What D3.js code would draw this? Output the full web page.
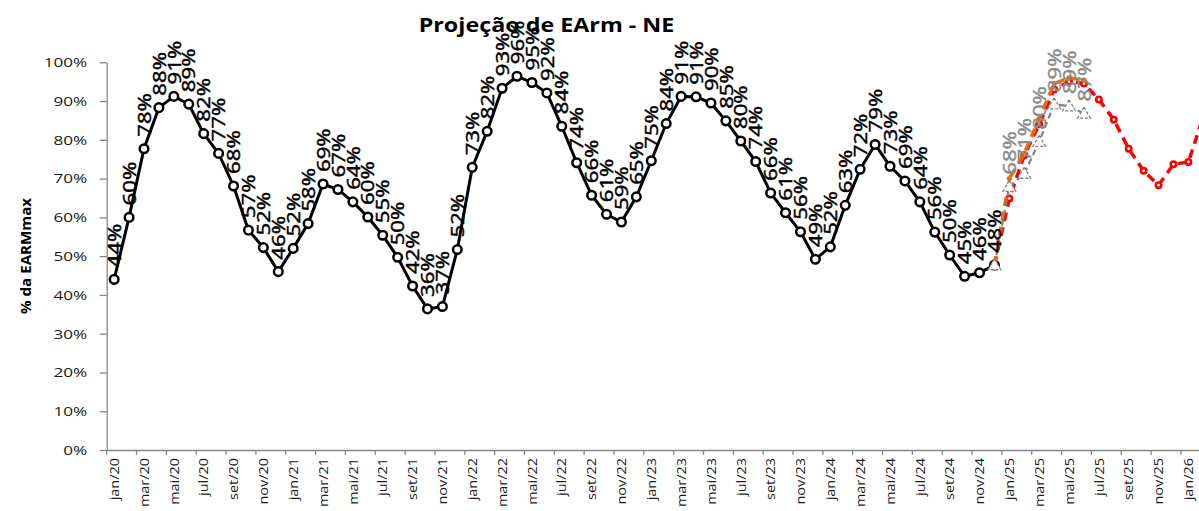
<!DOCTYPE html>
<html><head><meta charset="utf-8">
<script src="https://cdn.jsdelivr.net/npm/d3@7"></script>
<style>body{margin:0;background:#fff} svg{display:block} text{font-family:"Open Sans",sans-serif}</style>
</head><body><svg id="c" width="1199" height="511"></svg>
<script>
// ---- data ----
const monthNames = ["jan","fev","mar","abr","mai","jun","jul","ago","set","out","nov","dez"];
const years = ["20","21","22","23","24","25","26"];
const yTicks = [0,10,20,30,40,50,60,70,80,90,100];
const titleText = "Projeção de EArm - NE";
const yTitle = "% da EARMmax";

const histStart = "jan/20";
const histValues = [
  44.0, 60.0, 77.7, 88.3, 91.2, 89.2, 81.6, 76.5, 68.1, 56.7, 52.2, 46.0,
  52.0, 58.4, 68.6, 67.2, 64.0, 60.1, 55.4, 49.7, 42.3, 36.4, 37.0, 51.7,
  72.9, 82.2, 93.3, 96.4, 94.8, 92.1, 83.5, 74.1, 65.7, 60.8, 58.8, 65.3,
  74.6, 84.2, 91.2, 91.1, 89.5, 84.9, 79.7, 74.4, 66.3, 61.2, 56.3, 49.2,
  52.4, 63.1, 72.4, 78.8, 73.2, 69.4, 64.0, 56.2, 50.3, 44.8, 45.7, 47.7
];
const projStart = "dez/24";
const grayValues   = [47.7, 67.9, 71.3, 79.5, 89.2, 88.7, 86.8];
const orangeValues = [47.7, 70.0, 76.5, 85.5, 94.5, 96.0, 95.4];
const redValues    = [47.7, 64.9, 76.0, 84.0, 93.0, 95.0, 94.5, 90.4, 85.2, 77.7, 72.0, 68.3, 73.7, 74.3, 86.0];

// ---- setup ----
const W = 1199;
const svg = d3.select("#c");
const categories = years.flatMap(yr => monthNames.map(m => `${m}/${yr}`));
const x = d3.scaleBand().domain(categories).range([106.7, 106.7 + categories.length * 14.92]).padding(0);
const y = d3.scaleLinear().domain([0, 100]).range([450, 62.3]);
const cx = c => x(c) + x.bandwidth() / 2;
const toPts = (start, vals) => { const i0 = categories.indexOf(start); return vals.map((v, i) => ({c: categories[i0 + i], v})); };
const hist = toPts(histStart, histValues);
const gray = toPts(projStart, grayValues);
const orange = toPts(projStart, orangeValues);
const red = toPts(projStart, redValues);
const line = d3.line().x(d => cx(d.c)).y(d => y(d.v));

// title
svg.append("text").attr("transform", `translate(546.5,32) scale(1.24,1)`)
  .attr("text-anchor", "middle").attr("font-weight", "bold").attr("font-size", 18.8).attr("fill", "#000").text(titleText);

// y axis
const ya = svg.append("g").attr("transform", "translate(106.7,0)")
  .call(d3.axisLeft(y).tickValues(yTicks).tickSize(7).tickSizeOuter(0).tickFormat(d => d + "%"));
ya.select(".domain").attr("stroke", "#868686").attr("stroke-width", 1.3);
ya.selectAll(".tick line").attr("stroke", "#868686").attr("stroke-width", 1.3);
ya.selectAll(".tick text").attr("x", 0).attr("transform", `translate(-19.5,0) scale(1.27,1)`)
  .attr("font-size", 13.5).attr("font-family", "Open Sans").attr("fill", "#1a1a1a");

// x axis (labels only where they fit in the picture)
const xa = svg.append("g").attr("transform", "translate(0,450)")
  .call(d3.axisBottom(x).tickValues(categories.filter((c, i) => i % 2 === 0 && cx(c) < W - 6)).tickSize(5).tickSizeOuter(0));
xa.select(".domain").attr("stroke", "#868686").attr("stroke-width", 1.3);
xa.selectAll(".tick line").attr("stroke", "#868686").attr("stroke-width", 1.3)
  .attr("x1", -x.bandwidth() / 2).attr("x2", -x.bandwidth() / 2);
xa.selectAll(".tick text").attr("x", 0).attr("y", 0).attr("dy", "0.35em")
  .attr("transform", `translate(0,8) rotate(-90) scale(1.07,1)`).attr("text-anchor", "end")
  .attr("font-size", 13.5).attr("font-family", "Open Sans").attr("fill", "#1a1a1a");

// y title
svg.append("text").attr("transform", `translate(26,256) rotate(-90) scale(1.08,1)`)
  .attr("text-anchor", "middle").attr("dy", "0.35em").attr("font-weight", "bold").attr("font-size", 14).text(yTitle);

// historical
svg.append("path").datum(hist).attr("d", line).attr("fill", "none").attr("stroke", "#000").attr("stroke-width", 3);
svg.append("g").selectAll("circle").data(hist).join("circle")
  .attr("cx", d => cx(d.c)).attr("cy", d => y(d.v)).attr("r", 4.3)
  .attr("fill", "#fff").attr("stroke", "#000").attr("stroke-width", 2.5);

// red projection
svg.append("path").datum(red).attr("d", line).attr("fill", "none").attr("stroke", "#ff0000")
  .attr("stroke-width", 3.5).attr("stroke-dasharray", "9,6");
svg.append("g").selectAll("circle").data(red).join("circle")
  .attr("cx", d => cx(d.c)).attr("cy", d => y(d.v)).attr("r", 2.7)
  .attr("fill", "#fff").attr("stroke", "#ff0000").attr("stroke-width", 2.6);

// orange projection
svg.append("path").datum(orange).attr("d", line).attr("fill", "none").attr("stroke", "#e46c0a")
  .attr("stroke-width", 3.5).attr("stroke-dasharray", "9,6");
svg.append("g").selectAll("circle").data(orange).join("circle")
  .attr("cx", d => cx(d.c)).attr("cy", d => y(d.v)).attr("r", 2.6).attr("fill", "#e46c0a");

// gray projection
svg.append("path").datum(gray).attr("d", line).attr("fill", "none").attr("stroke", "#808080")
  .attr("stroke-width", 2.2).attr("stroke-dasharray", "6,4");
svg.append("g").selectAll("path").data(gray).join("path")
  .attr("d", d3.symbol().type(d3.symbolTriangle).size(70))
  .attr("transform", d => `translate(${cx(d.c)},${y(d.v) + 1})`)
  .attr("fill", "#fff").attr("stroke", "#808080").attr("stroke-width", 1.3).attr("stroke-dasharray", "3,2");

// labels
const addLabels = (pts, color) => svg.append("g").selectAll("text").data(pts).join("text")
  .attr("transform", d => `translate(${cx(d.c)},${y(d.v) - 12}) rotate(-90) scale(1.2,1)`)
  .attr("dy", "0.36em").attr("font-size", 18.5).attr("fill", color)
  .attr("stroke", color).attr("stroke-width", 0.45)
  .text(d => Math.round(d.v) + "%");
addLabels(hist, "#000");
addLabels(gray.slice(1), "#8c8c8c");
</script></body></html>
